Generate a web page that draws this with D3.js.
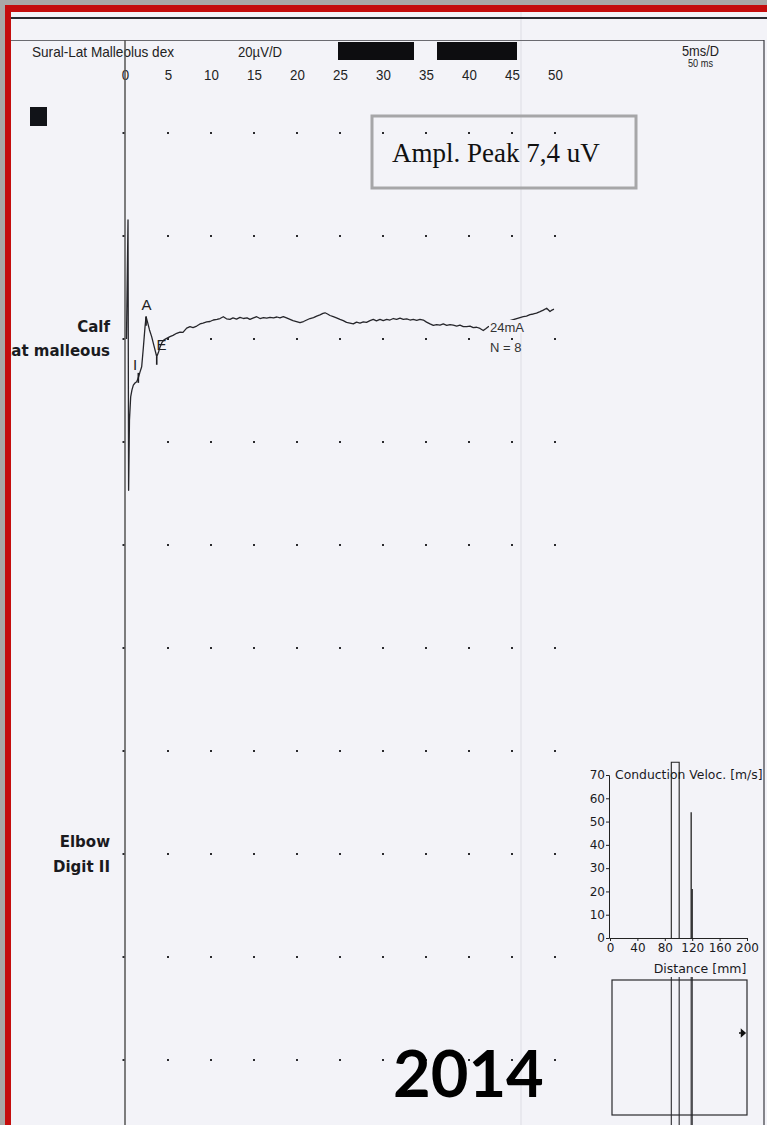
<!DOCTYPE html>
<html>
<head>
<meta charset="utf-8">
<script src="https://cdn.jsdelivr.net/npm/d3@7"></script>
<style>
  html, body { margin: 0; padding: 0; background: #a9a8a6; }
  svg { display: block; }
</style>
</head>
<body>
<svg id="chart" width="767" height="1125"></svg>
<script>
// ---- Sweep settings (5 ms per division, 0..50 ms) ----
const timeTicks = [0, 5, 10, 15, 20, 25, 30, 35, 40, 45, 50];
const gridRows = [0, 1, 2, 3, 4, 5, 6, 7, 8, 9];

// ---- Averaged sural SNAP trace (ms, µV relative to baseline) ----
const traceTime = [0.17,0.35,0.42,0.52,0.66,0.81,0.97,1.16,1.36,1.55,
  1.74,1.94,2.13,2.33,2.45,2.62,2.85,3.10,3.37,3.69,
  3.90,4.07,4.27,4.53,4.85,5.23,5.58,6.01,6.40,6.74,
  7.17,7.56,7.91,8.34,8.72,9.07,9.50,9.88,10.27,10.70,
  11.05,11.43,11.80,12.21,12.56,12.97,13.37,13.78,14.19,14.53,
  14.94,15.31,15.70,16.10,16.48,16.86,17.27,17.67,18.02,18.41,
  18.78,19.19,19.53,19.94,20.35,20.76,21.13,21.51,21.92,22.29,
  22.67,23.02,23.26,23.55,23.84,24.22,24.59,25.00,25.38,25.76,
  26.16,26.55,26.92,27.33,27.71,28.08,28.49,28.87,29.24,29.65,
  30.03,30.43,30.81,31.20,31.59,31.98,32.36,32.76,33.14,33.52,
  33.92,34.30,34.69,35.06,35.47,35.85,36.24,36.63,37.01,37.41,
  37.79,38.17,38.57,38.95,39.34,39.73,40.12,40.50,40.89,41.28,
  41.66,41.98,42.24,42.56,44.19,45.93,46.31,46.69,47.09,47.48,
  47.85,48.26,48.64,49.03,49.42,49.65,49.88];
const traceAmp = [0,39.5,-50.2,-26.9,-19.2,-16.9,-15.3,-14.6,-14.2,-12.9,
  -11.0,-9.2,-3.0,4.1,7.4,5.6,3.0,0.8,-2.3,-5.9,
  -4.3,-2.7,-1.3,-0.3,0.2,0.8,1.2,1.9,2.3,2.2,
  3.6,4.1,3.8,4.3,5.0,5.3,5.7,5.8,6.3,6.5,
  6.8,7.4,6.7,6.5,7.0,6.6,7.2,6.8,7.0,6.5,
  7.0,7.4,6.8,7.1,6.9,7.2,7.0,7.3,7.0,7.4,
  7.0,6.5,6.1,5.8,5.4,5.8,6.3,6.8,7.1,7.6,
  8.0,8.5,8.7,8.3,7.8,7.4,7.0,6.5,6.1,5.5,
  5.3,5.0,5.6,5.3,5.7,5.5,6.1,6.5,6.0,6.5,
  6.1,6.5,6.3,6.8,6.5,6.9,6.5,6.7,6.3,6.5,
  6.2,6.5,6.3,5.6,5.0,4.5,4.8,4.6,5.0,4.5,
  4.8,4.6,4.3,4.6,4.1,4.1,4.3,3.8,3.9,3.5,
  2.8,3.5,4.1,4.3,5.6,7.1,7.4,7.6,8.1,8.3,
  8.6,9.1,9.6,10.2,9.1,9.6,9.9];

// Latency markers: onset (I), peak (A), end / negative peak (E)
const markerNames = ["I", "A", "E"];
const markerTime = [1.55, 2.45, 3.69];
const peakAmplitude = 7.4;

// Channel / site labels
const siteLabels = ["Calf", "Lat malleous", "Elbow", "Digit II"];

// ---- Conduction velocity vs distance ----
const cvTicksY = [0, 10, 20, 30, 40, 50, 60, 70];
const cvTicksX = [0, 40, 80, 120, 160, 200];
const cvDistance = [89.5, 101, 118.5, 120];
const cvVelocity = [75.5, 75.5, 54, 21];

// ---------------------------------------------------------------
const W = 767, H = 1125;
const PAPER = "#f3f3f8";
const svg = d3.select("#chart");
const sans = "'Liberation Sans', Arial, sans-serif";

// paper
svg.append("rect").attr("x", 0).attr("y", 0).attr("width", W).attr("height", H).attr("fill", PAPER);

// faint fold in the paper
svg.append("line").attr("x1", 521).attr("x2", 521).attr("y1", 12).attr("y2", H)
  .attr("stroke", "#e1e1e8").attr("stroke-width", 1.2);

// header rules and right border
svg.append("line").attr("x1", 11).attr("x2", W).attr("y1", 18).attr("y2", 18).attr("stroke", "#2a2a30").attr("stroke-width", 1.8);
svg.append("line").attr("x1", 11).attr("x2", 764).attr("y1", 40.5).attr("y2", 40.5).attr("stroke", "#6a6a70").attr("stroke-width", 1);
svg.append("line").attr("x1", 764).attr("x2", 764).attr("y1", 40).attr("y2", H).attr("stroke", "#3a3a40").attr("stroke-width", 1.2);

// scales for the sweep
const x = d3.scaleLinear().domain([0, 50]).range([125, 555]);
const rowY = d3.scaleLinear().domain([0, 9]).range([133, 1060]);
const y = d3.scaleLinear().domain([0, peakAmplitude]).range([339, 316.7]);

// header texts (condensed)
const hdr = svg.append("g").attr("font-family", sans).attr("fill", "#222");
function condensed(g, txt, x0, y0, size, len) {
  return g.append("text").attr("x", x0).attr("y", y0).attr("font-size", size)
    .attr("textLength", len).attr("lengthAdjust", "spacingAndGlyphs").text(txt);
}
condensed(hdr, "Sural-Lat Malleolus dex", 32, 57, 15, 142);
condensed(hdr, "20µV/D", 238, 57, 15, 44);
condensed(hdr, "5ms/D", 682, 56, 14.5, 37);
condensed(hdr, "50 ms", 688, 67, 10, 25);
svg.append("rect").attr("x", 338).attr("y", 42).attr("width", 76).attr("height", 18).attr("fill", "#0d0d10");
svg.append("rect").attr("x", 437).attr("y", 42).attr("width", 80).attr("height", 18).attr("fill", "#0d0d10");

// time axis labels
const xAxis = svg.append("g").attr("transform", "translate(0,80)")
  .call(d3.axisTop(x).tickValues(timeTicks).tickSize(0).tickPadding(0));
xAxis.select(".domain").remove();
xAxis.selectAll("text").attr("font-family", sans).attr("font-size", 15).attr("fill", "#222")
  .attr("textLength", d => String(d).length * 7.4).attr("lengthAdjust", "spacingAndGlyphs");

// baseline axis line
svg.append("line").attr("x1", x(0)).attr("x2", x(0)).attr("y1", 40).attr("y2", H)
  .attr("stroke", "#555").attr("stroke-width", 1.5);

// dotted division grid
const dots = [];
gridRows.forEach(r => timeTicks.forEach(t => dots.push({ r, t })));
svg.append("g").selectAll("rect").data(dots).join("rect")
  .attr("x", d => x(d.t) - (d.t === 0 ? 2.5 : 1))
  .attr("y", d => rowY(d.r) - 1)
  .attr("width", 2).attr("height", 2)
  .attr("fill", "#2a2a2e");

// channel marker square
svg.append("rect").attr("x", 30).attr("y", 107).attr("width", 17).attr("height", 19).attr("fill", "#111318");

// site labels
const lab = svg.append("g").attr("font-family", "'DejaVu Sans', Verdana, sans-serif")
  .attr("font-weight", "bold").attr("font-size", 15).attr("fill", "#1a1a1e").attr("text-anchor", "end");
lab.append("text").attr("x", 110).attr("y", 332).text(siteLabels[0]);
lab.append("text").attr("x", 110).attr("y", 356).text(siteLabels[1]);
lab.append("text").attr("x", 110).attr("y", 847).text(siteLabels[2]);
lab.append("text").attr("x", 110).attr("y", 872).text(siteLabels[3]);

// trace
const trace = traceTime.map((t, i) => ({ t, v: traceAmp[i] }));
svg.append("path").datum(trace)
  .attr("fill", "none").attr("stroke", "#26262b").attr("stroke-width", 1.3)
  .attr("stroke-linejoin", "round")
  .attr("d", d3.line().x(d => x(d.t)).y(d => y(d.v)));

// latency markers
const markerOffset = { I: [-3.3, -8, -5, 5], A: [0.4, -6.5, 0, 9], E: [4.8, -6.5, 0, 8] };
const markers = markerNames.map((n, i) => {
  const idx = traceTime.indexOf(markerTime[i]);
  return { n, t: markerTime[i], v: traceAmp[idx] };
});
const mk = svg.append("g");
mk.selectAll("line").data(markers).join("line")
  .attr("x1", d => x(d.t)).attr("x2", d => x(d.t))
  .attr("y1", d => y(d.v) + markerOffset[d.n][2])
  .attr("y2", d => y(d.v) + markerOffset[d.n][3])
  .attr("stroke", "#1e1e22").attr("stroke-width", 1.6);
mk.selectAll("text").data(markers).join("text")
  .attr("x", d => x(d.t) + markerOffset[d.n][0])
  .attr("y", d => y(d.v) + markerOffset[d.n][1])
  .attr("text-anchor", "middle")
  .attr("font-family", sans).attr("font-size", 15).attr("fill", "#1e1e22")
  .text(d => d.n);

// stimulus / averaging info at the end of the sweep
const info = svg.append("g").attr("font-family", sans).attr("font-size", 13).attr("fill", "#333");
info.append("rect").attr("x", 489).attr("y", 320).attr("width", 38).attr("height", 13).attr("fill", PAPER);
info.append("text").attr("x", 490).attr("y", 332).text("24mA");
info.append("text").attr("x", 490).attr("y", 352).text("N = 8");

// amplitude annotation box
svg.append("rect").attr("x", 372).attr("y", 116).attr("width", 264).attr("height", 72)
  .attr("fill", "none").attr("stroke", "#a6a6a8").attr("stroke-width", 3);
svg.append("text").attr("x", 392).attr("y", 162)
  .attr("font-family", "'Liberation Serif', 'Times New Roman', serif").attr("font-size", 27).attr("fill", "#111")
  .text("Ampl. Peak " + String(peakAmplitude).replace(".", ",") + " uV");

// ---- conduction velocity inset ----
const cx = d3.scaleLinear().domain([0, 200]).range([610, 747]);
const cy = d3.scaleLinear().domain([0, 70]).range([938, 775]);
const insetFont = "'DejaVu Sans', Verdana, sans-serif";

const cvLines = cvDistance.map((d, i) => ({ d, v: cvVelocity[i] }));
// pair of lines joined at the top
svg.append("path")
  .attr("d", `M${cx(cvLines[0].d)},${cy(0)}V${cy(cvLines[0].v)}H${cx(cvLines[1].d)}V${cy(0)}`)
  .attr("fill", "none").attr("stroke", "#222").attr("stroke-width", 1.1);
svg.append("g").selectAll("line").data(cvLines.slice(2)).join("line")
  .attr("x1", d => cx(d.d)).attr("x2", d => cx(d.d))
  .attr("y1", cy(0)).attr("y2", d => cy(d.v))
  .attr("stroke", "#222").attr("stroke-width", 1.3);

const gy = svg.append("g").attr("transform", `translate(${cx(0) - 1},0)`)
  .call(d3.axisLeft(cy).tickValues(cvTicksY).tickSize(3).tickPadding(1));
const gx = svg.append("g").attr("transform", `translate(0,${cy(0)})`)
  .call(d3.axisBottom(cx).tickValues(cvTicksX).tickSize(3).tickPadding(2).tickSizeOuter(0));
[gy, gx].forEach(g => {
  g.select(".domain").attr("stroke", "#222");
  g.selectAll(".tick line").attr("stroke", "#222");
  g.selectAll("text").attr("font-family", insetFont).attr("font-size", 12).attr("fill", "#1a1a1e");
});
svg.append("text").attr("x", 615).attr("y", 779).attr("font-family", insetFont).attr("font-size", 12.4)
  .attr("fill", "#1a1a1e").text("Conduction Veloc. [m/s]");
svg.append("text").attr("x", 700).attr("y", 973).attr("text-anchor", "middle")
  .attr("font-family", insetFont).attr("font-size", 12.5).attr("fill", "#1a1a1e").text("Distance [mm]");

// lower position panel
svg.append("rect").attr("x", 612).attr("y", 980).attr("width", 135).attr("height", 135)
  .attr("fill", "none").attr("stroke", "#2a2a2e").attr("stroke-width", 1.2);
svg.append("g").selectAll("line").data(cvLines).join("line")
  .attr("x1", d => cx(d.d)).attr("x2", d => cx(d.d))
  .attr("y1", 977).attr("y2", H)
  .attr("stroke", "#2a2a2e").attr("stroke-width", 1.1);
svg.append("path").attr("d", "M739,1033H744M741.5,1030L745,1033L741.5,1036Z")
  .attr("stroke", "#111").attr("stroke-width", 1.5).attr("fill", "#111");

// year stamp
svg.append("text").attr("x", 393).attr("y", 1097)
  .attr("font-family", "Lato, 'Open Sans', sans-serif").attr("font-weight", 700).attr("font-size", 65)
  .attr("fill", "#000").text("2014");

// outer frame drawn last: grey margin and red edge on the top and left
svg.append("rect").attr("x", 0).attr("y", 0).attr("width", W).attr("height", 5).attr("fill", "#a9a8a6");
svg.append("rect").attr("x", 0).attr("y", 0).attr("width", 5).attr("height", H).attr("fill", "#a9a8a6");
svg.append("rect").attr("x", 5).attr("y", 5).attr("width", W - 5).attr("height", 7).attr("fill", "#c40d0d");
svg.append("rect").attr("x", 5).attr("y", 5).attr("width", 6).attr("height", H - 5).attr("fill", "#c40d0d");
</script>
</body>
</html>
